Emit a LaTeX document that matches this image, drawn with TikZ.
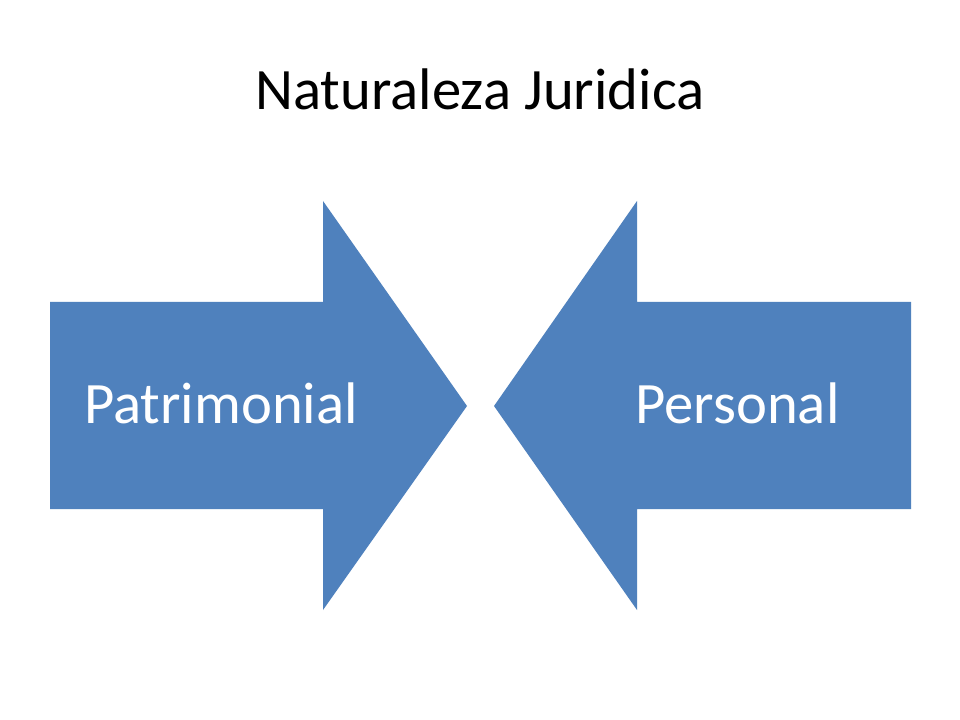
\documentclass[tikz,border=0pt]{standalone}
\usepackage{fontspec}
\setmainfont{Carlito}
\definecolor{arrowblue}{HTML}{4F81BD}
\begin{document}
\begin{tikzpicture}[x=0.75pt,y=-0.75pt,
  arrowshape/.style={fill=arrowblue,draw=none},
  lbl/.style={text=white,font=\fontsize{44}{52}\selectfont,anchor=base,inner sep=0pt},
  ttl/.style={text=black,font=\fontsize{44}{52}\selectfont,anchor=base,inner sep=0pt}]
\useasboundingbox (0,0) rectangle (960,720);
\fill[white] (0,0) rectangle (960,720);
\node[ttl] (title) at (480,110) {Naturaleza Juridica};
\fill[arrowshape] (50,302) -- (323,302) -- (323,201) -- (467,406) -- (323,610) -- (323,509) -- (50,509) -- cycle;
\fill[arrowshape] (911,302) -- (637,302) -- (637,201) -- (494,406) -- (637,610) -- (637,509) -- (911,509) -- cycle;
\node[lbl] (patr) at (221,423) {Patrimonial};
\node[lbl] (pers) at (737.5,423) {Personal};
\end{tikzpicture}
\end{document}
